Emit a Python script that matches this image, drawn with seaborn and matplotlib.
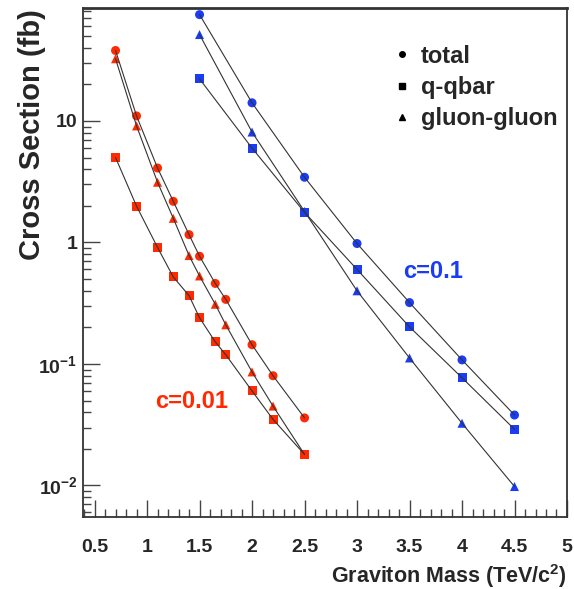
import numpy as np
import pandas as pd
import matplotlib
matplotlib.use('Agg')
import matplotlib.pyplot as plt
from matplotlib.lines import Line2D
from matplotlib.ticker import LogLocator, MultipleLocator, FixedLocator, FixedFormatter, NullFormatter
import seaborn as sns

# c = 0.01 (red)
mass_r = [0.7, 0.9, 1.1, 1.25, 1.4, 1.5, 1.65, 1.75, 2.0, 2.2, 2.5]
total_r = [38, 11.0, 4.1, 2.18, 1.16, 0.77, 0.46, 0.34, 0.144, 0.080, 0.036]
qq_r = [5.0, 1.99, 0.91, 0.52, 0.365, 0.24, 0.152, 0.119, 0.060, 0.035, 0.018]
gg_r = [32.5, 9.1, 3.13, 1.58, 0.78, 0.53, 0.31, 0.21, 0.086, 0.045, 0.018]

# c = 0.1 (blue)
mass_b = [1.5, 2.0, 2.5, 3.0, 3.5, 4.0, 4.5]
total_b = [75, 14.1, 3.44, 0.98, 0.32, 0.108, 0.038]
qq_b = [22.2, 5.98, 1.77, 0.60, 0.202, 0.077, 0.029]
gg_b = [51.4, 8.1, 1.80, 0.40, 0.112, 0.0325, 0.0098]

processes = ['total', 'q-qbar', 'gluon-gluon']
markers = {'total': 'o', 'q-qbar': 's', 'gluon-gluon': '^'}
xtick_vals = [0.5, 1, 1.5, 2, 2.5, 3, 3.5, 4, 4.5, 5]
xtick_labels = ['0.5', '1', '1.5', '2', '2.5', '3', '3.5', '4', '4.5', '5']
ytick_vals = [0.01, 0.1, 1, 10]
ytick_labels = ['$10^{-2}$', '$10^{-1}$', '1', '10']

rows = []
for c, m, series in [('0.01', mass_r, [total_r, qq_r, gg_r]),
                     ('0.1', mass_b, [total_b, qq_b, gg_b])]:
    for proc, vals in zip(processes, series):
        for x, y in zip(m, vals):
            rows.append({'c': c, 'process': proc, 'mass': x, 'xsec': y})
df = pd.DataFrame(rows)
df['curve'] = df['c'] + '_' + df['process']

red = '#ff2a00'
blue = '#1a3cf5'
sns.set_style('ticks')
plt.rcParams['font.family'] = ['Liberation Sans', 'DejaVu Sans']
plt.rcParams['mathtext.fontset'] = 'custom'
plt.rcParams['mathtext.rm'] = 'Liberation Sans:bold'
plt.rcParams['mathtext.it'] = 'Liberation Sans:bold'
plt.rcParams['mathtext.bf'] = 'Liberation Sans:bold'
plt.rcParams['mathtext.default'] = 'bf'

fig = plt.figure(figsize=(5.74, 5.89), dpi=100)
ax = fig.add_axes([0.1446, 0.1222, 0.8432, 0.8642])

sns.lineplot(data=df, x='mass', y='xsec', units='curve', estimator=None,
             color='#333333', linewidth=0.8, ax=ax, zorder=3, legend=False)
sns.scatterplot(data=df, x='mass', y='xsec', hue='c', style='process',
                palette={'0.01': red, '0.1': blue}, markers=markers,
                s=42, linewidth=0, ax=ax, zorder=2, legend=False)

ax.set_yscale('log')
ax.set_xlim(0.39, 5.0)
ax.set_ylim(0.0055, 85)

ax.xaxis.set_major_locator(FixedLocator(xtick_vals))
ax.xaxis.set_major_formatter(FixedFormatter(xtick_labels))
ax.xaxis.set_minor_locator(MultipleLocator(0.1))

ax.yaxis.set_major_locator(FixedLocator(ytick_vals))
ax.yaxis.set_major_formatter(FixedFormatter(ytick_labels))
ax.yaxis.set_minor_locator(LogLocator(base=10, subs=np.arange(2, 10)))
ax.yaxis.set_minor_formatter(NullFormatter())

ax.tick_params(axis='both', which='major', direction='in', length=12, width=1,
               labelsize=14, color='#444444', top=False, right=False)
ax.tick_params(axis='both', which='minor', direction='in', length=6, width=1,
               color='#444444', top=False, right=False)
ax.tick_params(axis='x', which='major', pad=16)
ax.tick_params(axis='y', which='major', pad=4)
for lab in ax.get_xticklabels() + ax.get_yticklabels():
    lab.set_fontweight('bold')

for sp in ax.spines.values():
    sp.set_color('#333333')
    sp.set_linewidth(1.3)
ax.spines['top'].set_linewidth(2)

ax.set_xlabel('Graviton Mass (TeV/c$^{2}$)', fontsize=15.5, fontweight='bold',
              loc='right', labelpad=4)
ax.set_ylabel('Cross Section (fb)', fontsize=21, fontweight='bold', loc='top')
ax.yaxis.set_label_coords(-0.077, 0.997)

ax.text(0.661, 0.47, 'c=0.1', transform=ax.transAxes, color=blue, fontsize=17,
        fontweight='bold')
ax.text(0.149, 0.214, 'c=0.01', transform=ax.transAxes, color=red, fontsize=17,
        fontweight='bold')

handles = [Line2D([], [], linestyle='none', marker=markers[p], color='black',
                  markersize=4) for p in processes]
ax.legend(handles, processes, loc='upper left', bbox_to_anchor=(0.6, 0.97),
          frameon=False, handlelength=0.6, handletextpad=0.5, labelspacing=0.35,
          prop={'weight': 'bold', 'size': 17})

fig.savefig('out.png', dpi=100)
